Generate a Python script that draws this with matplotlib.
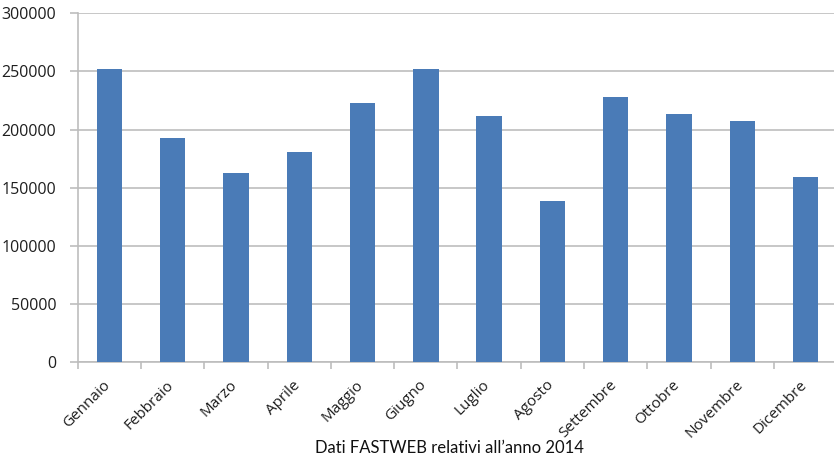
import matplotlib
matplotlib.use("Agg")
import matplotlib.pyplot as plt
import matplotlib.transforms as mtransforms
import numpy as np

months = ["Gennaio", "Febbraio", "Marzo", "Aprile", "Maggio", "Giugno",
          "Luglio", "Agosto", "Settembre", "Ottobre", "Novembre", "Dicembre"]
values = [252000, 192500, 163000, 180500, 222500, 252000,
          211500, 138500, 228000, 213500, 207000, 159000]
y_ticks = [0, 50000, 100000, 150000, 200000, 250000, 300000]
caption = "Dati FASTWEB relativi all\u2019anno 2014"

W, H = 834, 461
fig = plt.figure(figsize=(W / 100, H / 100), dpi=100)
ax = fig.add_axes([77.7 / W, 1 - 362.3 / H, 12 * 63.3 / W, (362.3 - 13.3) / H])

grid_c = "#bdbdbd"
text_c = "#1e1e1e"
x = np.arange(len(months))
ax.bar(x, values, width=0.4, color="#4a7bb7", zorder=3)

ax.set_xlim(-0.5, len(months) - 0.5)
ax.set_ylim(0, 300000)
ax.set_yticks(y_ticks)
ax.set_yticklabels([str(v) for v in y_ticks])
ax.yaxis.grid(True, color=grid_c, linewidth=1.2, zorder=0)

for s in ["top", "right"]:
    ax.spines[s].set_visible(False)
for s in ["left", "bottom"]:
    ax.spines[s].set_color(grid_c)
    ax.spines[s].set_linewidth(1.2)

ax.set_xticks(x)
ax.set_xticks(np.arange(-0.5, len(months), 1.0), minor=True)
ax.tick_params(axis="x", which="major", length=0, pad=11)
ax.tick_params(axis="x", which="minor", length=5, color=grid_c, width=1.2)
ax.tick_params(axis="y", length=5.5, color=grid_c, width=1.2, pad=10,
               labelsize=11.5, labelcolor=text_c)
for lab in ax.get_yticklabels():
    lab.set_family("Open Sans")

offset = mtransforms.ScaledTranslation(4 / 100, 0, fig.dpi_scale_trans)
ax.set_xticklabels(months, rotation=45, ha="right", fontsize=11,
                   color=text_c, family="Open Sans")
for lab in ax.get_xticklabels():
    lab.set_transform(lab.get_transform() + offset)

fig.text(449 / W, 1 - 453 / H, caption, ha="center", va="baseline",
         fontsize=12, color="#111111", family="Lato")

fig.savefig("out.png", dpi=100)
